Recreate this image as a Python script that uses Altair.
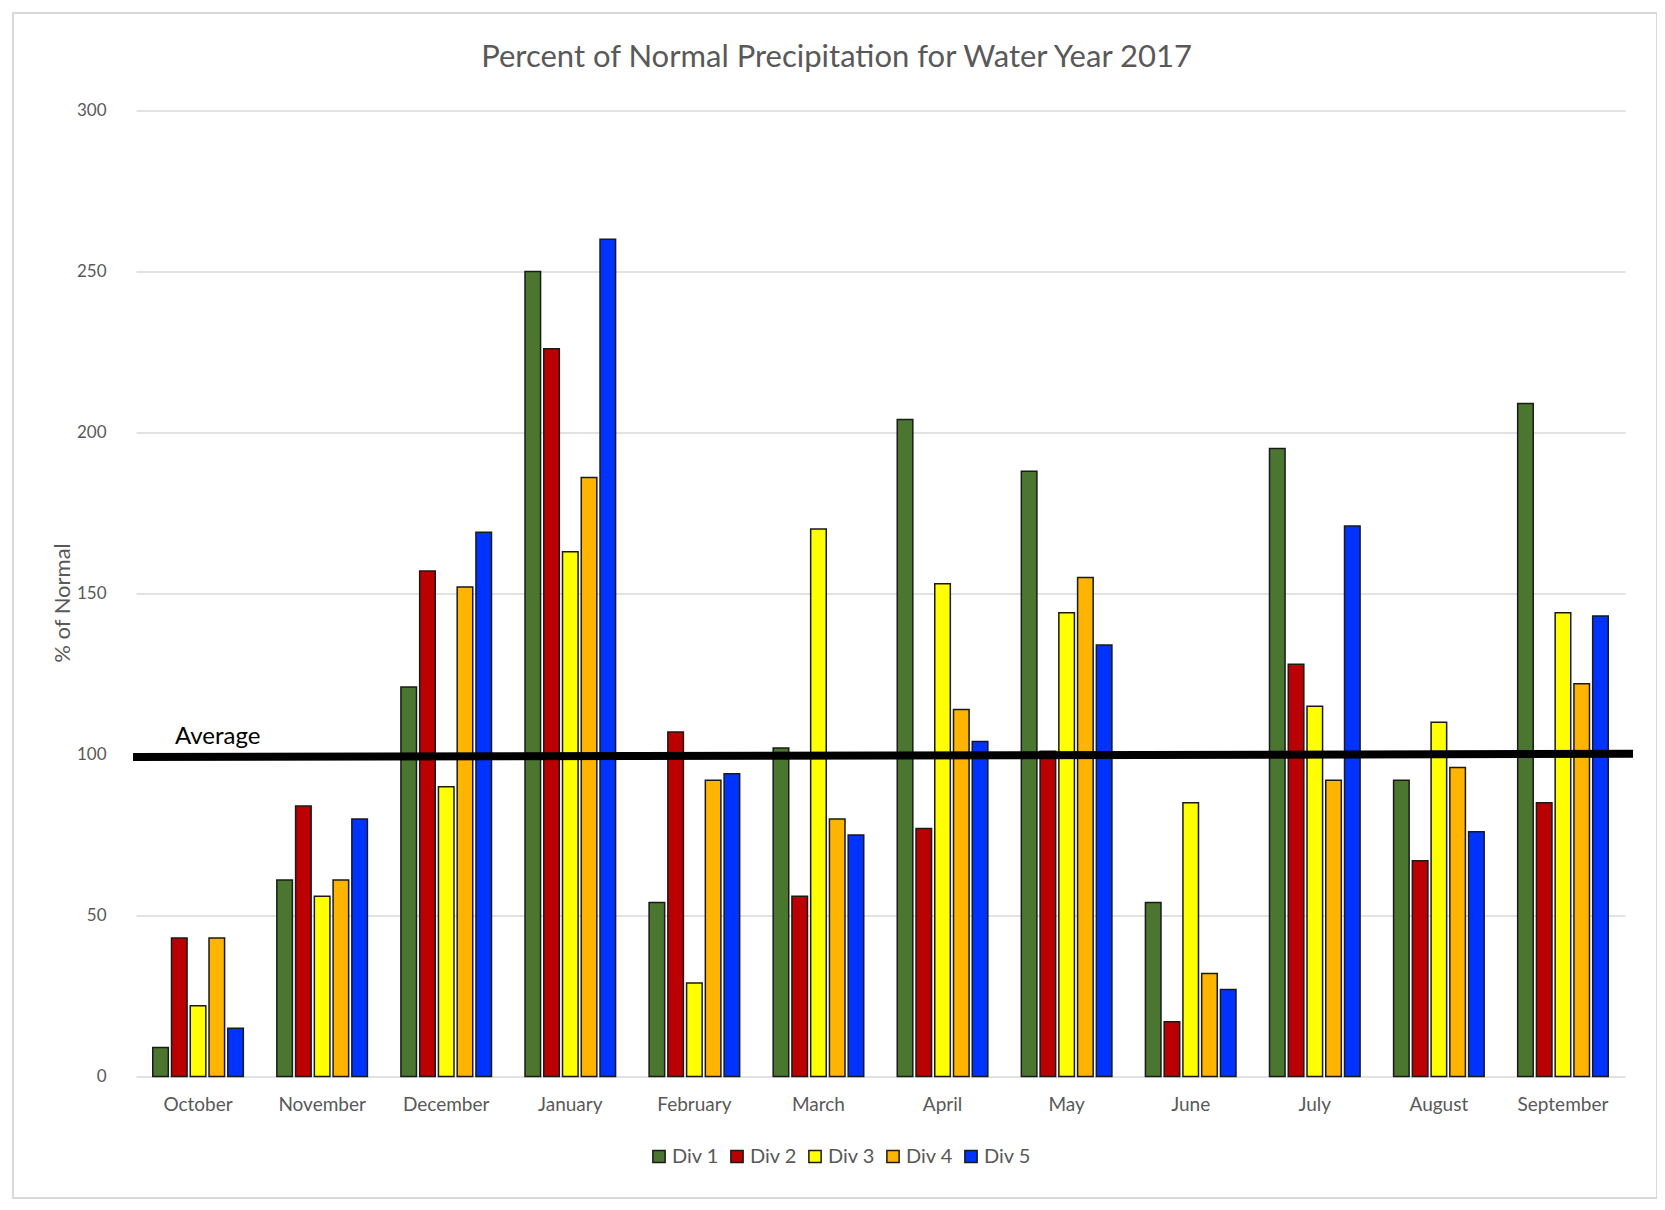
import altair as alt
import pandas as pd

MONTHS = ["October", "November", "December", "January", "February", "March",
          "April", "May", "June", "July", "August", "September"]
DIVS = ["Div 1", "Div 2", "Div 3", "Div 4", "Div 5"]
DIV1 = [9, 61, 121, 250, 54, 102, 204, 188, 54, 195, 92, 209]
DIV2 = [43, 84, 157, 226, 107, 56, 77, 101, 17, 128, 67, 85]
DIV3 = [22, 56, 90, 163, 29, 170, 153, 144, 85, 115, 110, 144]
DIV4 = [43, 61, 152, 186, 92, 80, 114, 155, 32, 92, 96, 122]
DIV5 = [15, 80, 169, 260, 94, 75, 104, 134, 27, 171, 76, 143]
COLORS = ["#4B7630", "#BA0000", "#FFFF00", "#FFB500", "#0033FF"]
Y_TICKS = [0, 50, 100, 150, 200, 250, 300]
AVG_LEFT = 99.2
AVG_RIGHT = 100.2
AVG_LABEL = "Average"
TITLE = "Percent of Normal Precipitation for Water Year 2017"
Y_TITLE = "% of Normal"

rows = []
for div, vals in zip(DIVS, [DIV1, DIV2, DIV3, DIV4, DIV5]):
    for m, v in zip(MONTHS, vals):
        rows.append({"month": m, "div": div, "value": v})
df = pd.DataFrame(rows)

W, H = 1489, 966
FONT = "Lato"
GRAY = "#595959"

yscale = alt.Scale(domain=[0, 300], nice=False)

bars = alt.Chart(df).mark_bar(stroke="#1a1a1a", strokeWidth=1.5).encode(
    x=alt.X("month:N", sort=MONTHS,
            scale=alt.Scale(paddingInner=0.27, paddingOuter=0.135),
            axis=alt.Axis(title=None, labelAngle=0, ticks=False, domain=False,
                          labelPadding=19, labelFontSize=19, labelColor=GRAY,
                          labelFont=FONT, grid=False)),
    xOffset=alt.XOffset("div:N", sort=DIVS, scale=alt.Scale(paddingInner=0.17)),
    y=alt.Y("value:Q", scale=yscale,
            axis=alt.Axis(title=Y_TITLE, values=Y_TICKS, ticks=False, domain=False,
                          labelPadding=30, labelFontSize=17, labelColor=GRAY,
                          labelFont=FONT, titleFont=FONT, titleFontSize=22,
                          titleFontWeight="normal", titleColor=GRAY, titlePadding=2,
                          titleY=492,
                          gridColor="#d9d9d9", gridWidth=1.5)),
    color=alt.Color("div:N", sort=DIVS, scale=alt.Scale(domain=DIVS, range=COLORS),
                    legend=alt.Legend(title=None, orient="none", direction="horizontal",
                                      legendX=513, legendY=1036, symbolType="square",
                                      symbolSize=150, symbolStrokeColor="#1a1a1a",
                                      symbolStrokeWidth=1.5, symbolOpacity=1,
                                      labelFontSize=20, labelColor=GRAY, labelFont=FONT,
                                      labelOffset=3, columnPadding=8)),
)

avg_df = pd.DataFrame({"label": [AVG_LABEL]})
avg_rule = alt.Chart(avg_df).mark_rule(color="black", strokeWidth=8, strokeCap="butt").encode(
    x=alt.value(-3), x2=alt.value(1497),
    y=alt.datum(AVG_LEFT, scale=yscale), y2=alt.datum(AVG_RIGHT),
)
avg_text = alt.Chart(avg_df).mark_text(align="left", baseline="middle", fontSize=24,
                                       font=FONT, color="black", dy=-20).encode(
    x=alt.value(39), y=alt.datum(AVG_LEFT), text="label:N",
)
frame = alt.Chart(avg_df).mark_rect(filled=False, stroke="#d9d9d9", strokeWidth=2).encode(
    x=alt.value(-123), x2=alt.value(1521), y=alt.value(-97.5), y2=alt.value(1087.5),
)

chart = alt.layer(frame, bars, avg_rule, avg_text).properties(
    width=W, height=H,
    title=alt.TitleParams(TITLE, font=FONT, fontSize=31, fontWeight="normal",
                          color=GRAY, anchor="middle", baseline="alphabetic",
                          offset=-86, dx=-44, frame="group"),
    padding={"left": 128, "top": 102.5, "right": 32, "bottom": 125},
    autosize=alt.AutoSizeParams(type="none"),
).configure(background="white", view=alt.ViewConfig(stroke="transparent"))

chart.save("out.html", embed_options={"renderer": "svg", "actions": False})
